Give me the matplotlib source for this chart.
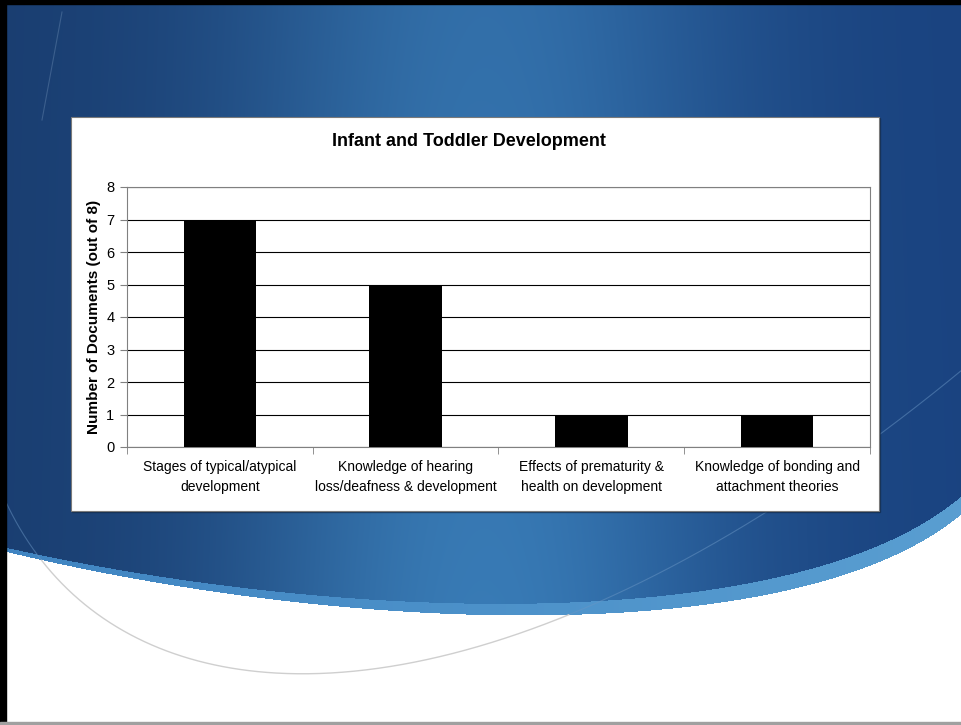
import numpy as np
import matplotlib.pyplot as plt
from matplotlib.patches import Rectangle

# ----------------------------
# Data
# ----------------------------
categories = [
    "Stages of typical/atypical\ndevelopment",
    "Knowledge of hearing\nloss/deafness & development",
    "Effects of prematurity &\nhealth on development",
    "Knowledge of bonding and\nattachment theories",
]
counts = [7, 5, 1, 1]
y_ticks = [0, 1, 2, 3, 4, 5, 6, 7, 8]
title = "Infant and Toddler Development"
y_label = "Number of Documents (out of 8)"

W, H = 962, 725
FONT = ["Liberation Sans Narrow", "Liberation Sans", "DejaVu Sans"]


def bezier(p, n=600):
    t = np.linspace(0, 1, n)[:, None]
    p = np.asarray(p, float)
    return ((1 - t) ** 3 * p[0] + 3 * (1 - t) ** 2 * t * p[1]
            + 3 * (1 - t) * t ** 2 * p[2] + t ** 3 * p[3])


fig = plt.figure(figsize=(W / 100, H / 100), dpi=100)

# ----------------------------
# Slide background
# ----------------------------
bg = fig.add_axes([0, 0, 1, 1])
bg.set_xlim(0, W)
bg.set_ylim(H, 0)
bg.axis("off")

xx, yy = np.meshgrid(np.arange(W), np.arange(H))
fx = np.exp(-((xx / W - 0.5) / 0.26) ** 2)
fy = np.clip(yy / 600, 0, 1)
dark = np.array([0.10, 0.24, 0.44])
light = np.array([0.22, 0.47, 0.68])
img = dark + (light - dark) * (0.8 * fx + 0.2 * fy * fx)[..., None]
img = img + np.array([0.0, 0.02, 0.06]) * (xx / W)[..., None]

edge_dark = bezier([(0, 546), (350, 625), (800, 635), (962, 495)])
edge_band = bezier([(0, 550), (350, 635), (800, 650), (962, 513)])
yd = np.interp(np.arange(W), edge_dark[:, 0], edge_dark[:, 1])
yb = np.interp(np.arange(W), edge_band[:, 0], edge_band[:, 1])

band_col = np.array([0.25, 0.52, 0.76]) + np.array([0.10, 0.10, 0.06]) * (xx / W)[..., None]
img = np.where((yy >= yd[None, :])[..., None], band_col, img)
img = np.where((yy >= yb[None, :])[..., None], np.ones(3), img)
bg.imshow(np.clip(img, 0, 1), extent=(0, W, H, 0), aspect="auto", zorder=0)

# thin decorative arc: grey on white, faint on blue
arc = bezier([(5, 500), (120, 750), (500, 750), (962, 370)])
on_white = arc[:, 1] >= np.interp(arc[:, 0], np.arange(W), yb)
ax_arc = np.where(on_white, arc[:, 1], np.nan)
bg.plot(arc[:, 0], ax_arc, color="#cfcfcf", lw=1.0, zorder=1)
bg.plot(arc[:, 0], np.where(on_white, np.nan, arc[:, 1]),
        color="#6a96c4", lw=0.8, alpha=0.5, zorder=1)
bg.plot([42, 62], [120, 12], color="#6f8fb5", lw=0.8, alpha=0.4, zorder=1)

# slide frame
bg.add_patch(Rectangle((0, 0), 6, H, color="black", zorder=5))
bg.add_patch(Rectangle((0, 0), W, 4, color="black", zorder=5))
bg.add_patch(Rectangle((0, H - 3), W, 3, color="#a0a0a0", zorder=5))

# chart box with shadow
bg.add_patch(Rectangle((72, 118), 808, 394, color="#10243f", alpha=0.5, zorder=2))
bg.add_patch(Rectangle((71, 117), 808, 394, facecolor="white",
                       edgecolor="#7a7a7a", lw=0.8, zorder=3))

# ----------------------------
# Bar chart
# ----------------------------
ax = fig.add_axes([127 / W, 1 - 447 / H, 743 / W, 260 / H])
x = np.arange(len(categories))
ax.bar(x, counts, width=0.39, color="black", zorder=3)
ax.set_xlim(-0.5, len(categories) - 0.5)
ax.set_ylim(0, 8)
ax.set_yticks(y_ticks)
ax.yaxis.grid(True, color="black", lw=0.8)
ax.set_axisbelow(True)
ax.set_xticks(x)
ax.set_xticklabels(categories, fontsize=10, family=FONT, linespacing=1.55)
ax.set_xticks(np.arange(len(categories) + 1) - 0.5, minor=True)
ax.tick_params(axis="x", which="major", length=0, pad=9)
ax.tick_params(axis="x", which="minor", length=5, color="#808080")
ax.tick_params(axis="y", length=5, color="#808080", labelsize=10.5, pad=4)
for lab in ax.get_yticklabels():
    lab.set_family(FONT)
for s in ax.spines.values():
    s.set_color("#808080")
    s.set_linewidth(0.8)
ax.set_ylabel(y_label, fontsize=11, fontweight="bold",
              family=["Liberation Sans", "DejaVu Sans"], labelpad=4)

fig.text(469 / W, 1 - 141 / H, title, ha="center", va="center",
         fontsize=13, fontweight="bold", family=FONT)

fig.savefig("out.png", dpi=100)
